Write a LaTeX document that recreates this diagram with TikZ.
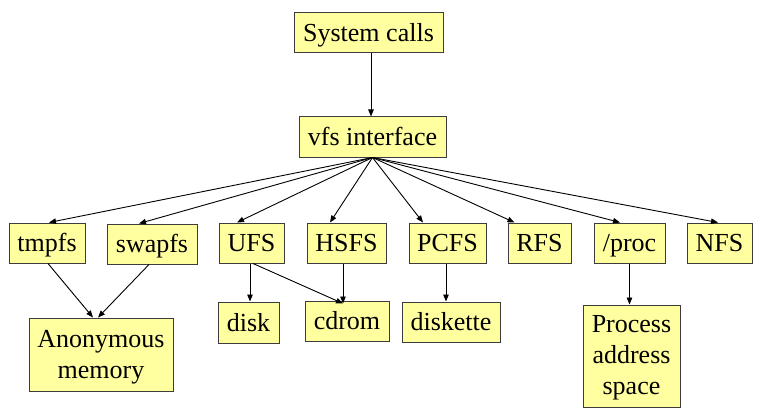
\documentclass[tikz,border=0pt]{standalone}
\usepackage{fontspec}
\setmainfont{Liberation Serif}
\usetikzlibrary{arrows.meta}
\definecolor{boxfill}{RGB}{255,255,160}
\definecolor{boxline}{RGB}{60,60,60}
\tikzset{
  fsbox/.style={draw=boxline, line width=1pt, fill=boxfill, inner sep=0pt,
    align=center, font=\fontsize{26}{31}\selectfont, text height=20pt, text depth=3pt},
  conn/.style={line width=0.9pt, -{Triangle[length=7pt,width=5.5pt]}}
}
\begin{document}
\begin{tikzpicture}[x=1pt,y=-1pt]
\useasboundingbox (0,0) rectangle (764,412);
\node[fsbox, minimum width=149pt, minimum height=40pt] (sys) at (368.5,33) {System calls};
\node[fsbox, minimum width=147pt, minimum height=40pt] (vfs) at (372.5,137) {vfs interface};
\node[fsbox, minimum width=76pt, minimum height=40pt] (tmpfs) at (47,243) {tmpfs};
\node[fsbox, minimum width=90pt, minimum height=40pt] (swapfs) at (152,244) {swapfs};
\node[fsbox, minimum width=65pt, minimum height=40pt] (ufs) at (251.5,243) {UFS};
\node[fsbox, minimum width=79pt, minimum height=40pt] (hsfs) at (346.5,243) {HSFS};
\node[fsbox, minimum width=77pt, minimum height=40pt] (pcfs) at (447.5,243) {PCFS};
\node[fsbox, minimum width=63pt, minimum height=40pt] (rfs) at (539.5,243) {RFS};
\node[fsbox, minimum width=71pt, minimum height=40pt] (proc) at (629.5,243) {/proc};
\node[fsbox, minimum width=65pt, minimum height=40pt] (nfs) at (719.5,243) {NFS};
\node[fsbox, minimum width=61pt, minimum height=41pt] (disk) at (248.5,322.5) {disk};
\node[fsbox, minimum width=84pt, minimum height=40pt] (cdrom) at (347,321) {cdrom};
\node[fsbox, minimum width=98pt, minimum height=40pt] (diskette) at (451,322) {diskette};
\node[fsbox, minimum width=144pt, minimum height=73pt, text height=, text depth=] (anon) at (101,354.5) {\rule{0pt}{23pt}Anonymous\\memory};
\node[fsbox, minimum width=97pt, minimum height=102pt, text height=, text depth=] (pas) at (631.5,356) {\rule{0pt}{20pt}Process\\address\\space};

\draw[conn] ([xshift=2.5pt]sys.south) -- ([xshift=-1.5pt]vfs.north);
\draw[conn] (vfs.south) -- ([xshift=2pt]tmpfs.north);
\draw[conn] (vfs.south) -- ([xshift=-13pt]swapfs.north);
\draw[conn] (vfs.south) -- ([xshift=-14.5pt]ufs.north);
\draw[conn] (vfs.south) -- ([xshift=-16.5pt]hsfs.north);
\draw[conn] (vfs.south) -- ([xshift=-24.5pt]pcfs.north);
\draw[conn] (vfs.south) -- ([xshift=-25pt]rfs.north);
\draw[conn] (vfs.south) -- ([xshift=-9.5pt]proc.north);
\draw[conn] (vfs.south) -- ([xshift=-1.5pt]nfs.north);
\draw[conn] ([xshift=1pt]tmpfs.south) -- ([xshift=-8pt]anon.north);
\draw[conn] ([xshift=-3pt]swapfs.south) -- ([xshift=-3pt]anon.north);
\draw[conn] ([xshift=-1.5pt]ufs.south) -- ([xshift=1.5pt]disk.north);
\draw[conn] ([xshift=1.5pt]ufs.south) -- ([xshift=-4pt,yshift=-3pt]cdrom.north);
\draw[conn] ([xshift=-3.5pt]hsfs.south) -- ([xshift=-4pt,yshift=-3pt]cdrom.north);
\draw[conn] ([xshift=-1.5pt]pcfs.south) -- ([xshift=-5pt]diskette.north);
\draw[conn] (proc.south) -- ([xshift=-2pt]pas.north);
\end{tikzpicture}
\end{document}
